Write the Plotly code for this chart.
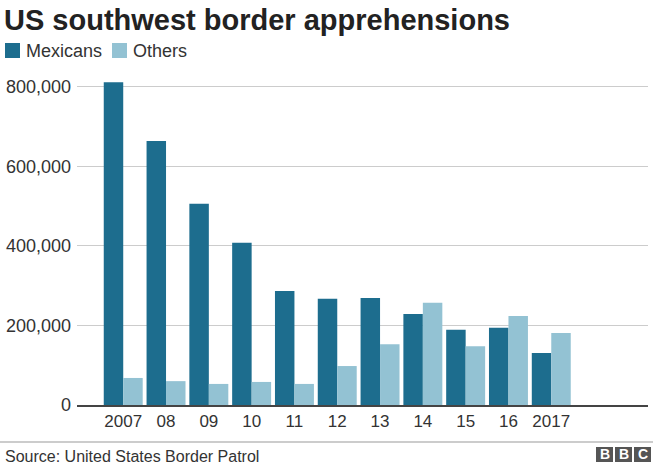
import plotly.graph_objects as go

years = ["2007", "08", "09", "10", "11", "12", "13", "14", "15", "16", "2017"]
mexicans = [812000, 664000, 506000, 408000, 287000, 267000, 269000, 229000, 189000, 194000, 131000]
others = [68000, 60000, 53000, 58000, 53000, 98000, 153000, 257000, 148000, 224000, 181000]
y_ticks = [0, 200000, 400000, 600000, 800000]
y_tick_labels = ["0", "200,000", "400,000", "600,000", "800,000"]
series_names = ["Mexicans", "Others"]

dark = "#1d6d8e"
light = "#93c2d3"
font = "Liberation Sans, Arial, sans-serif"

L, R, T, B = 77, 12, 75, 64
W, H = 660, 469
PW, PH = W - L - R, H - T - B


def px(x):
    return (x - L) / PW


def py(y):
    return (H - B - y) / PH


fig = go.Figure()
fig.add_trace(go.Bar(name=series_names[0], x=years, y=mexicans, marker_color=dark, marker_line_width=0))
fig.add_trace(go.Bar(name=series_names[1], x=years, y=others, marker_color=light, marker_line_width=0))

fig.update_layout(
    width=W, height=H,
    margin=dict(l=L, r=R, t=T, b=B, autoexpand=False),
    paper_bgcolor="white", plot_bgcolor="white",
    barmode="group", bargap=0.09, bargroupgap=0,
    font=dict(family=font, color="#333333"),
    showlegend=False,
    title=dict(text="<b>US southwest border apprehensions</b>", x=4 / W, xanchor="left",
               y=1 - 20 / H, yanchor="middle", font=dict(size=29, color="#222222", family=font)),
)
fig.update_xaxes(type="category", range=[-1.08, 12.26], showgrid=False, showline=True,
                 linecolor="#444444", linewidth=1.5, ticks="", tickfont=dict(size=17, color="#333333"),
                 fixedrange=True)
fig.update_yaxes(range=[0, 830000], tickvals=y_ticks, ticktext=y_tick_labels, showgrid=True,
                 gridcolor="#cccccc", gridwidth=1, zeroline=False, showline=False, ticks="",
                 ticklabelstandoff=5, tickfont=dict(size=18, color="#333333"), fixedrange=True)

# legend drawn manually
legend_items = [(series_names[0], dark, 5), (series_names[1], light, 112)]
for name, col, x0 in legend_items:
    fig.add_shape(type="rect", xref="paper", yref="paper", x0=px(x0), x1=px(x0 + 15),
                  y0=py(58), y1=py(43), fillcolor=col, line=dict(width=0))
    fig.add_annotation(text=name, xref="paper", yref="paper", x=px(x0 + 19), xanchor="left",
                       y=py(51), yanchor="middle", showarrow=False,
                       font=dict(size=18, color="#333333", family=font))

# footer rule
fig.add_shape(type="line", xref="paper", yref="paper", x0=px(0), x1=px(653),
              y0=py(442), y1=py(442), line=dict(color="#999999", width=1))
fig.add_annotation(text="Source: United States Border Patrol", xref="paper", yref="paper",
                   x=px(3), xanchor="left", y=py(456), yanchor="middle", showarrow=False,
                   font=dict(size=16, color="#333333", family=font))
# BBC blocks
for i, letter in enumerate("BBC"):
    x0 = 596 + i * 19
    fig.add_shape(type="rect", xref="paper", yref="paper",
                  x0=px(x0), x1=px(x0 + 17), y0=py(462), y1=py(447),
                  fillcolor="#555555", line=dict(width=0))
    fig.add_annotation(text="<b>%s</b>" % letter, xref="paper", yref="paper",
                       x=px(x0 + 8.5), y=py(454.5), xanchor="center", yanchor="middle",
                       showarrow=False, font=dict(size=14, color="white", family=font))

fig.write_html("out.html", config={"displayModeBar": False},
               post_script="document.body.style.margin='0';document.body.style.overflow='hidden';")
